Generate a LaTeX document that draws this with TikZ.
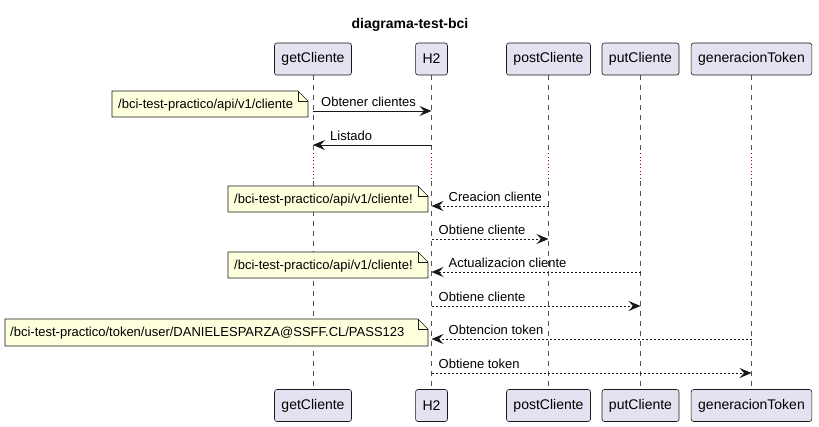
\documentclass[tikz,border=0pt]{standalone}
\usepackage{fontspec}
\setmainfont{Liberation Sans}
\usetikzlibrary{arrows.meta}
\definecolor{pfill}{HTML}{E2E2F0}
\definecolor{pline}{HTML}{181818}
\definecolor{nfill}{HTML}{FEFFDD}
\definecolor{delayc}{HTML}{A80036}
\tikzset{
  part/.style={draw=pline, line width=0.6pt, fill=pfill, rounded corners=2.5pt,
    minimum height=32pt, inner xsep=7pt, font=\fontsize{14}{16}\selectfont},
  life/.style={draw=pline!75, line width=0.6pt, dash pattern=on 5pt off 5pt},
  delayline/.style={draw=delayc, line width=1pt, dash pattern=on 1pt off 2.5pt},
  msg/.style={draw=pline, line width=0.9pt, -{Stealth[length=12pt,width=10pt,inset=4.5pt]}},
  rmsg/.style={msg, dash pattern=on 2pt off 2pt},
  lbl/.style={font=\fontsize{13}{15}\selectfont, inner sep=0pt, anchor=base west},
  notetxt/.style={font=\fontsize{13}{15}\selectfont, inner sep=0pt, anchor=base west},
  notebox/.style={draw=pline, line width=0.6pt, fill=nfill},
}
\newcommand{\notebox}[4]{% x1,y1,x2,y2
  \path[notebox] (#1,#2) -- (#3-10,#2) -- (#3,#2+10) -- (#3,#4) -- (#1,#4) -- cycle;
  \draw[pline, line width=0.6pt] (#3-10,#2) -- (#3-10,#2+10) -- (#3,#2+10);
}
\begin{document}
\begin{tikzpicture}[x=1pt,y=-1pt]
\useasboundingbox (0,0) rectangle (819,426);
\node[font=\bfseries\fontsize{14}{16}\selectfont] (title) at (410,25) {diagrama-test-bci};

% lifelines x
\def\xa{313}\def\xb{431.5}\def\xc{548.5}\def\xd{640.5}\def\xe{751.5}

\foreach \x in {\xa,\xb,\xc,\xd,\xe}{
  \draw[life] (\x,75) -- (\x,150);
  \draw[delayline] (\x,153) -- (\x,179);
  \draw[life] (\x,181) -- (\x,390);
}

% participants top
\node[part] (gcT) at (\xa,59) {getCliente};
\node[part] (h2T) at (\xb,59) {H2};
\node[part] (pcT) at (\xc,59) {postCliente};
\node[part] (puT) at (\xd,59) {putCliente};
\node[part] (gtT) at (\xe,59) {generacionToken};
% participants bottom
\node[part] (gcB) at (\xa,405.5) {getCliente};
\node[part] (h2B) at (\xb,405.5) {H2};
\node[part] (pcB) at (\xc,405.5) {postCliente};
\node[part] (puB) at (\xd,405.5) {putCliente};
\node[part] (gtB) at (\xe,405.5) {generacionToken};

% message anchor coordinates
\coordinate (gc1) at (\xa,111); \coordinate (h21) at (\xb,111);
\coordinate (gc2) at (\xa,145); \coordinate (h22) at (\xb,145);
\coordinate (pc3) at (\xc,206); \coordinate (h23) at (\xb,206);
\coordinate (h24) at (\xb,239); \coordinate (pc4) at (\xc,239);
\coordinate (pu5) at (\xd,272); \coordinate (h25) at (\xb,272);
\coordinate (h26) at (\xb,306); \coordinate (pu6) at (\xd,306);
\coordinate (gt7) at (\xe,339); \coordinate (h27) at (\xb,339);
\coordinate (h28) at (\xb,373); \coordinate (gt8) at (\xe,373);

% notes
\notebox{112}{91}{308}{117}
\node[notetxt] (n1) at (118,108) {/bci-test-practico/api/v1/cliente};
\notebox{228}{186}{428}{212}
\node[notetxt] (n2) at (234,203) {/bci-test-practico/api/v1/cliente!};
\notebox{228}{252}{428}{278}
\node[notetxt] (n3) at (234,269) {/bci-test-practico/api/v1/cliente!};
\notebox{5}{319}{428}{346}
\node[notetxt] (n4) at (10,336) {/bci-test-practico/token/user/DANIELESPARZA@SSFF.CL/PASS123};

% messages
\draw[msg] (gc1) -- (h21);
\node[lbl] (l1) at (\xa+8,106) {Obtener clientes};
\draw[msg] (h22) -- (gc2);
\node[lbl] (l2) at (\xa+17,140) {Listado};
\draw[rmsg] (pc3) -- (h23);
\node[lbl] (l3) at (\xb+17,201) {Creacion cliente};
\draw[rmsg] (h24) -- (pc4);
\node[lbl] (l4) at (\xb+7,234) {Obtiene cliente};
\draw[rmsg] (pu5) -- (h25);
\node[lbl] (l5) at (\xb+17,267) {Actualizacion cliente};
\draw[rmsg] (h26) -- (pu6);
\node[lbl] (l6) at (\xb+7,301) {Obtiene cliente};
\draw[rmsg] (gt7) -- (h27);
\node[lbl] (l7) at (\xb+17,334) {Obtencion token};
\draw[rmsg] (h28) -- (gt8);
\node[lbl] (l8) at (\xb+7,368) {Obtiene token};
\end{tikzpicture}
\end{document}
